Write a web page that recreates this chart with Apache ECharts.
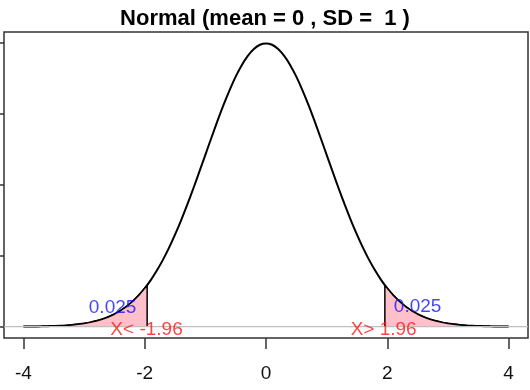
<!DOCTYPE html>
<html>
<head>
<meta charset="utf-8">
<script src="https://cdn.jsdelivr.net/npm/echarts@6/dist/echarts.min.js"></script>
<style>
html,body{margin:0;padding:0;background:#fff;}
#chart{width:530px;height:390px;}
</style>
</head>
<body>
<div id="chart"></div>
<script>
// x positions of the curve points
var curveX = [-4.0,-3.9,-3.8,-3.7,-3.6,-3.5,-3.4,-3.3,-3.2,-3.1,-3.0,-2.9,-2.8,-2.7,-2.6,-2.5,-2.4,-2.3,-2.2,-2.1,-2.0,-1.9,-1.8,-1.7,-1.6,-1.5,-1.4,-1.3,-1.2,-1.1,-1.0,-0.9,-0.8,-0.7,-0.6,-0.5,-0.4,-0.3,-0.2,-0.1,0.0,0.1,0.2,0.3,0.4,0.5,0.6,0.7,0.8,0.9,1.0,1.1,1.2,1.3,1.4,1.5,1.6,1.7,1.8,1.9,2.0,2.1,2.2,2.3,2.4,2.5,2.6,2.7,2.8,2.9,3.0,3.1,3.2,3.3,3.4,3.5,3.6,3.7,3.8,3.9,4.0];
// density values
var curveY = [0.0001,0.0002,0.0003,0.0004,0.0006,0.0009,0.0012,0.0017,0.0024,0.0033,0.0044,0.0060,0.0079,0.0104,0.0136,0.0175,0.0224,0.0283,0.0355,0.0440,0.0540,0.0656,0.0790,0.0940,0.1109,0.1295,0.1497,0.1714,0.1942,0.2179,0.2420,0.2661,0.2897,0.3123,0.3332,0.3521,0.3683,0.3814,0.3910,0.3970,0.3989,0.3970,0.3910,0.3814,0.3683,0.3521,0.3332,0.3123,0.2897,0.2661,0.2420,0.2179,0.1942,0.1714,0.1497,0.1295,0.1109,0.0940,0.0790,0.0656,0.0540,0.0440,0.0355,0.0283,0.0224,0.0175,0.0136,0.0104,0.0079,0.0060,0.0044,0.0033,0.0024,0.0017,0.0012,0.0009,0.0006,0.0004,0.0003,0.0002,0.0001];
var cutoff = 1.96;
var cutoffDensity = 0.0584;
var xTicks = [-4, -2, 0, 2, 4];
var yTicks = [0, 0.1, 0.2, 0.3, 0.4];
var titleText = 'Normal (mean = 0 , SD =  1 )';
var areaLabels = ['0.025', '0.025'];
var areaLabelX = [-2.53, 2.50];
var areaLabelY = [0.027, 0.028];
var tailLabels = ['X< -1.96', 'X> 1.96'];
var tailLabelX = [-1.97, 1.94];
var tailLabelY = [-0.004, -0.004];

var curve = curveX.map(function (x, i) { return [x, curveY[i]]; });
var leftTail = [];
var rightTail = [[cutoff, 0], [cutoff, cutoffDensity]];
curveX.forEach(function (x, i) {
  if (x <= -cutoff) leftTail.push([x, curveY[i]]);
  if (x >= cutoff) rightTail.push([x, curveY[i]]);
});
leftTail.push([-cutoff, cutoffDensity]);
leftTail.push([-cutoff, 0]);

var chart = echarts.init(document.getElementById('chart'), null, {renderer: 'canvas'});
var FONT = '"Liberation Sans", Arial, sans-serif';
chart.setOption({
  animation: false,
  backgroundColor: '#ffffff',
  title: {
    text: titleText,
    left: 'center',
    top: 3,
    textStyle: {fontFamily: FONT, fontSize: 22, fontWeight: 'bold', color: '#000'}
  },
  grid: {left: 4, right: 2, top: 32, bottom: 52, show: true, borderColor: '#333', borderWidth: 1.5, backgroundColor: 'transparent'},
  xAxis: {
    type: 'value', min: -4.32, max: 4.32, position: 'bottom',
    axisLine: {show: false, onZero: false},
    splitLine: {show: false},
    axisTick: {show: true, inside: false, length: 11, customValues: xTicks, lineStyle: {color: '#333', width: 1.5}},
    axisLabel: {show: true, customValues: xTicks, margin: 26, fontFamily: FONT, fontSize: 19, color: '#111'}
  },
  yAxis: {
    type: 'value', min: -0.016, max: 0.415, position: 'left',
    axisLine: {show: false, onZero: false},
    splitLine: {show: false},
    axisTick: {show: true, length: 11, customValues: yTicks, lineStyle: {color: '#333', width: 1.5}},
    axisLabel: {show: false}
  },
  series: [
    {
      type: 'line', data: curve, showSymbol: false, smooth: 0.3, silent: true, z: 2,
      lineStyle: {color: '#000', width: 2}
    },
    {
      type: 'line', data: leftTail, showSymbol: false, silent: true, z: 3,
      lineStyle: {color: '#000', width: 1.5},
      areaStyle: {color: '#ffc0cb', opacity: 1}
    },
    {
      type: 'line', data: rightTail, showSymbol: false, silent: true, z: 3,
      lineStyle: {color: '#000', width: 1.5},
      areaStyle: {color: '#ffc0cb', opacity: 1}
    },
    {
      type: 'line', data: [[-4.32, 0], [4.32, 0]], showSymbol: false, silent: true, z: 4,
      lineStyle: {color: '#bebebe', width: 1.2}
    },
    {
      type: 'scatter', silent: true, z: 5, symbolSize: 0.01,
      itemStyle: {color: 'rgba(0,0,0,0)'},
      data: areaLabels.map(function (t, i) { return {value: [areaLabelX[i], areaLabelY[i]], name: t}; }),
      label: {show: true, position: 'inside', formatter: '{b}', fontFamily: FONT, fontSize: 19, color: '#1414ff'}
    },
    {
      type: 'scatter', silent: true, z: 5, symbolSize: 0.01,
      itemStyle: {color: 'rgba(0,0,0,0)'},
      data: tailLabels.map(function (t, i) { return {value: [tailLabelX[i], tailLabelY[i]], name: t}; }),
      label: {show: true, position: 'inside', formatter: '{b}', fontFamily: FONT, fontSize: 19, color: '#ff1414'}
    }
  ]
});
</script>
</body>
</html>
